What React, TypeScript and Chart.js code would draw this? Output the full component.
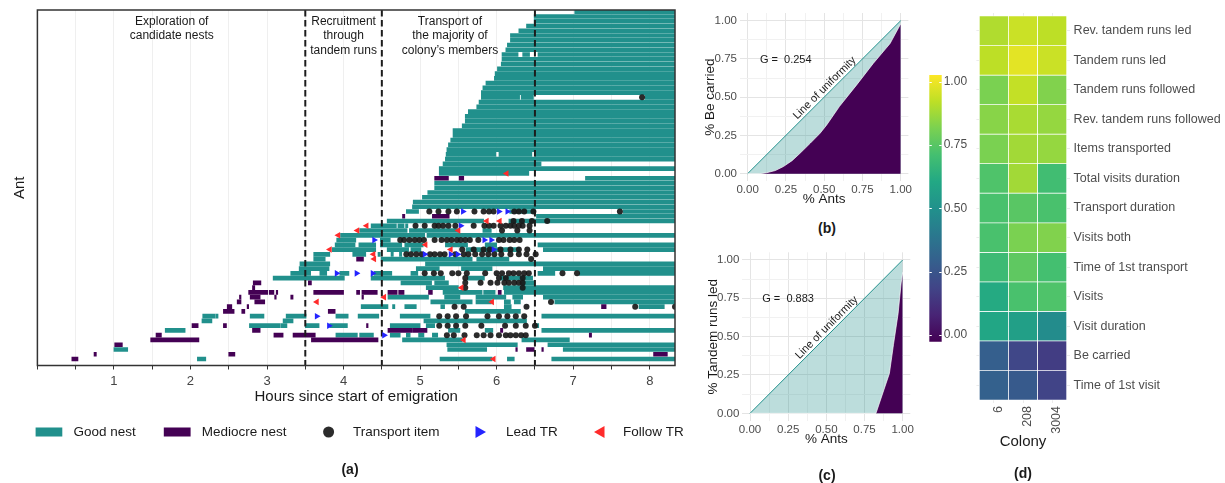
import React, { useEffect, useRef } from 'react';
import { Chart, registerables } from 'chart.js';

Chart.register(...registerables);

const FONT = "'Liberation Sans', Arial, Helvetica, sans-serif";
Chart.defaults.font.family = FONT;
Chart.defaults.color = '#4d4d4d';

const TEAL = '#21908C';
const PURPLE = '#440154';
const DOT = 'rgba(25,25,25,0.92)';
const BLUE = '#2424ff';
const RED = '#ff2b2b';

// ---------------- Panel (a) data ----------------
const hourTicks = [0, 0.5, 1, 1.5, 2, 2.5, 3, 3.5, 4, 4.5, 5, 5.5, 6, 6.5, 7, 7.5, 8];
const hourMax = 8.33;
const rowMin = -0.36;
const rowMax = 74.37;
const phaseBreaks = [3.5, 4.5, 6.5];
const phaseTextRows = [2.1, 5.1, 8.1];
const phaseTitles = [
  { x: 1.755, lines: ['Exploration of', 'candidate nests'] },
  { x: 4.0, lines: ['Recruitment', 'through', 'tandem runs'] },
  { x: 5.39, lines: ['Transport of', 'the majority of', 'colony\u2019s members'] },
];

// [ant row (0 = top), start hour, end hour]
const goodNest: number[][] = [
  [0, 7.02, 8.33], [1, 6.49, 8.33], [2, 6.49, 8.33], [3, 6.39, 8.33], [4, 6.29, 8.33],
  [5, 6.18, 8.33], [6, 6.18, 8.33], [7, 6.14, 8.33], [8, 6.12, 8.33],
  [9, 6.07, 6.28], [9, 6.34, 6.43], [9, 6.54, 8.33],
  [10, 6.07, 8.33], [11, 6.06, 8.33], [12, 6.01, 8.33], [13, 5.98, 8.33], [14, 5.97, 8.33],
  [15, 5.86, 8.33], [16, 5.82, 8.33], [17, 5.8, 8.33],
  [18, 5.8, 6.3], [18, 6.32, 6.48], [18, 7.94, 8.33],
  [19, 5.77, 8.33], [20, 5.74, 8.33], [21, 5.63, 8.33], [22, 5.59, 8.33], [23, 5.59, 8.33],
  [24, 5.55, 8.33], [25, 5.43, 8.33], [26, 5.43, 8.33], [27, 5.4, 8.33], [28, 5.37, 8.33],
  [29, 5.35, 8.33],
  [30, 5.34, 5.99], [30, 6.03, 6.46], [30, 6.5, 8.33],
  [31, 5.33, 8.33], [32, 5.3, 6.58], [33, 5.25, 8.33], [34, 5.25, 6.42], [35, 7.16, 8.33],
  [36, 5.19, 8.33], [37, 5.19, 8.33], [38, 5.1, 8.33], [39, 5.03, 8.33], [40, 4.91, 8.33],
  [41, 4.9, 8.33],
  [42, 4.82, 4.98], [42, 6.17, 6.5], [42, 7.65, 8.33],
  [43, 6.52, 8.33],
  [44, 4.57, 5.83], [44, 6.16, 8.33],
  [45, 4.36, 4.69], [45, 4.71, 4.79], [45, 4.81, 4.84],
  [46, 4.21, 4.83], [46, 4.86, 5.5], [46, 5.82, 5.93],
  [47, 3.96, 5.06], [47, 5.09, 8.33],
  [48, 3.91, 4.16], [48, 4.48, 4.61],
  [49, 3.89, 4.15], [49, 4.2, 4.42], [49, 4.48, 4.76], [49, 4.8, 5.04], [49, 5.33, 5.62], [49, 5.85, 6.0], [49, 6.54, 8.33],
  [50, 3.85, 4.42], [50, 4.57, 4.85], [50, 4.88, 5.01], [50, 5.6, 6.3], [50, 6.61, 8.33],
  [51, 3.61, 3.82], [51, 4.12, 4.29], [51, 4.45, 4.48], [51, 4.62, 4.65], [51, 4.73, 4.76],
  [52, 3.61, 3.76], [52, 4.49, 5.68], [52, 5.74, 6.16],
  [53, 3.43, 3.82], [53, 5.07, 8.33],
  [54, 3.42, 3.81], [54, 4.95, 5.25], [54, 5.54, 5.94], [54, 6.61, 8.33],
  [55, 3.31, 3.57], [55, 3.69, 3.78], [55, 3.95, 4.07], [55, 4.4, 4.63], [55, 4.88, 4.97], [55, 6.54, 6.76], [55, 7.08, 8.33],
  [56, 3.08, 4.01], [56, 4.36, 5.32], [56, 5.62, 5.84], [56, 6.05, 6.47],
  [57, 4.75, 5.15], [57, 5.19, 5.37], [57, 6.33, 6.49],
  [58, 5.08, 5.5], [58, 6.09, 8.33],
  [59, 5.3, 5.81], [59, 5.83, 5.98], [59, 6.1, 8.33],
  [60, 4.58, 5.11], [60, 5.32, 5.52], [60, 5.73, 6.12], [60, 6.21, 6.34], [60, 6.61, 8.33],
  [61, 5.14, 5.68], [61, 5.73, 5.93], [61, 6.1, 6.18], [61, 6.23, 6.31], [61, 6.76, 8.33],
  [62, 4.23, 4.58], [62, 4.64, 4.67], [62, 4.8, 4.95], [62, 5.27, 5.32], [62, 6.1, 6.19], [62, 7.86, 8.19],
  [63, 5.59, 6.31],
  [64, 2.16, 2.32], [64, 2.33, 2.36], [64, 2.78, 2.96], [64, 3.25, 3.51], [64, 3.9, 4.06], [64, 4.19, 4.46], [64, 4.74, 5.13], [64, 6.59, 8.33],
  [65, 2.15, 2.28], [65, 3.21, 3.34], [65, 5.05, 6.39],
  [66, 2.77, 3.17], [66, 3.18, 3.26], [66, 3.5, 3.68], [66, 3.82, 4.05], [66, 4.61, 5.0], [66, 5.08, 5.19], [66, 6.51, 6.55],
  [67, 1.67, 1.93], [67, 5.37, 5.52], [67, 5.85, 5.95], [67, 6.59, 8.33],
  [68, 3.9, 4.18], [68, 4.21, 4.39], [68, 4.61, 4.74], [68, 4.82, 4.87], [68, 4.98, 5.05], [68, 5.16, 5.23],
  [69, 4.77, 5.55], [69, 6.33, 6.95],
  [70, 5.35, 6.27], [70, 6.67, 8.33],
  [71, 1.0, 1.18], [71, 5.36, 5.87], [71, 6.87, 8.33],
  [73, 2.09, 2.2], [73, 5.26, 5.94], [73, 6.14, 6.23], [73, 6.72, 8.33],
];

const mediocreNest: number[][] = [
  [35, 5.19, 5.37], [35, 5.51, 5.57],
  [43, 4.77, 4.8], [43, 5.16, 5.38],
  [52, 4.17, 4.26],
  [57, 2.82, 2.92], [57, 3.54, 3.58],
  [58, 2.81, 2.84],
  [59, 2.76, 3.01], [59, 3.03, 3.09], [59, 3.12, 3.14], [59, 3.61, 4.0], [59, 4.17, 4.21], [59, 4.24, 4.44], [59, 4.58, 4.7], [59, 4.72, 4.79], [59, 5.11, 5.16], [59, 6.02, 6.06],
  [60, 2.64, 2.66], [60, 2.78, 2.91], [60, 3.1, 3.12], [60, 3.31, 3.34], [60, 4.24, 4.26],
  [61, 2.61, 2.66], [61, 2.84, 2.97],
  [62, 2.48, 2.54], [62, 2.74, 2.76], [62, 7.37, 7.43],
  [63, 2.43, 2.57], [63, 2.67, 2.71], [63, 3.8, 3.89],
  [66, 2.02, 2.1], [66, 2.43, 2.47], [66, 4.3, 4.32],
  [67, 2.81, 2.91], [67, 4.58, 4.89], [67, 4.9, 5.09], [67, 6.05, 6.08],
  [68, 1.55, 1.62], [68, 3.09, 3.21], [68, 3.34, 3.63], [68, 7.21, 7.24],
  [69, 1.48, 2.11], [69, 3.58, 4.45],
  [70, 1.01, 1.11],
  [71, 6.25, 6.27], [71, 6.39, 6.49], [71, 6.59, 6.61],
  [72, 0.74, 0.77], [72, 2.5, 2.58], [72, 8.05, 8.23],
  [73, 0.45, 0.53],
];

// [ant row, hour]
const transportItems: number[][] = [
  [18, 7.9],
  [42, 5.12], [42, 5.24], [42, 5.37], [42, 5.48], [42, 5.71], [42, 5.83], [42, 5.9], [42, 5.96], [42, 6.23], [42, 6.29], [42, 6.36], [42, 6.48], [42, 7.61],
  [44, 6.22], [44, 6.33], [44, 6.46], [44, 6.66],
  [45, 4.94], [45, 5.06], [45, 5.19], [45, 5.24], [45, 5.3], [45, 5.37], [45, 5.46], [45, 5.7], [45, 5.84], [45, 5.9], [45, 5.96], [45, 6.05], [45, 6.12], [45, 6.18], [45, 6.23], [45, 6.29], [45, 6.34], [45, 6.43],
  [46, 6.07], [46, 6.27], [46, 6.43],
  [48, 4.74], [48, 4.79], [48, 4.86], [48, 4.93], [48, 4.99], [48, 5.05], [48, 5.19], [48, 5.28], [48, 5.35], [48, 5.41], [48, 5.48], [48, 5.53], [48, 5.59], [48, 5.65], [48, 5.76], [48, 6.03], [48, 6.09], [48, 6.17], [48, 6.23], [48, 6.3],
  [50, 5.55], [50, 5.7], [50, 5.83], [50, 5.91], [50, 6.05], [50, 6.18], [50, 6.29], [50, 6.4],
  [51, 4.82], [51, 4.88], [51, 4.95], [51, 5.02], [51, 5.13], [51, 5.19], [51, 5.26], [51, 5.32], [51, 5.46], [51, 5.57], [51, 5.63], [51, 5.72], [51, 5.81], [51, 5.89], [51, 5.97], [51, 6.06], [51, 6.18], [51, 6.29], [51, 6.39], [51, 6.51],
  [52, 6.45],
  [55, 5.06], [55, 5.18], [55, 5.27], [55, 5.42], [55, 5.5], [55, 5.61], [55, 5.85], [55, 6.0], [55, 6.07], [55, 6.16], [55, 6.22], [55, 6.29], [55, 6.36], [55, 6.42], [55, 6.86], [55, 7.05],
  [56, 5.59], [56, 6.03], [56, 6.12], [56, 6.34],
  [57, 5.59], [57, 5.79], [57, 5.92], [57, 6.01], [57, 6.1], [57, 6.16], [57, 6.23], [57, 6.29], [57, 6.34],
  [58, 5.59], [58, 6.34],
  [61, 6.71],
  [62, 5.45], [62, 5.57], [62, 6.39], [62, 7.81], [62, 8.33],
  [64, 5.25], [64, 5.36], [64, 5.47], [64, 5.6], [64, 5.88], [64, 6.03], [64, 6.14], [64, 6.25], [64, 6.36],
  [66, 5.25], [66, 5.36], [66, 5.47], [66, 5.59], [66, 5.8], [66, 6.11], [66, 6.25], [66, 6.38], [66, 6.5],
  [68, 5.35], [68, 5.44], [68, 5.58], [68, 5.74], [68, 5.83], [68, 5.92], [68, 6.03], [68, 6.12], [68, 6.18], [68, 6.25], [68, 6.32], [68, 6.38],
];

const leadTR: number[][] = [
  [42, 5.56], [42, 6.03], [42, 6.14], [45, 5.53], [48, 4.4], [48, 5.84], [48, 5.93], [50, 5.96],
  [51, 5.06], [51, 5.4], [51, 5.49], [55, 3.91], [55, 4.17], [55, 4.38], [64, 3.65], [66, 3.81], [68, 4.53],
];

const followTR: number[][] = [
  [34, 6.13], [44, 5.87], [44, 6.04], [45, 4.3], [46, 4.18], [46, 5.5], [47, 3.93], [49, 5.07],
  [50, 3.82], [50, 5.4], [51, 4.39], [52, 4.4], [58, 5.54], [60, 4.53], [61, 3.65], [61, 5.94],
  [69, 5.57], [73, 5.96],
];

// ---------------- Panels (b), (c) data ----------------
const lorenzTicks = [0, 0.125, 0.25, 0.375, 0.5, 0.625, 0.75, 0.875, 1];
const lorenzBeCarried = [
  [0, 0], [0.08, 0], [0.124, 0.006], [0.18, 0.02], [0.233, 0.046], [0.29, 0.085], [0.342, 0.133],
  [0.41, 0.2], [0.473, 0.264], [0.516, 0.318], [0.6, 0.44], [0.712, 0.58], [0.82, 0.72],
  [0.93, 0.85], [1, 0.98],
];
const lorenzTandemLed = [
  [0, 0], [0.825, 0], [0.913, 0.26], [0.94, 0.45], [0.97, 0.65], [0.99, 0.85], [1, 0.92],
];
const uniformity = [[0, 0], [1, 1]];
const giniBeCarried = 'G =  0.254';
const giniTandemLed = 'G =  0.883';

// ---------------- Panel (d) data ----------------
const colonies = ['6', '208', '3004'];
const traits = [
  'Rev. tandem runs led', 'Tandem runs led', 'Tandem runs followed', 'Rev. tandem runs followed',
  'Items transported', 'Total visits duration', 'Transport duration', 'Visits both',
  'Time of 1st transport', 'Visits', 'Visit duration', 'Be carried', 'Time of 1st visit',
];
const colony6 = [0.9, 0.921, 0.816, 0.837, 0.816, 0.731, 0.721, 0.721, 0.689, 0.616, 0.595, 0.29, 0.3];
const colony208 = [0.942, 0.984, 0.931, 0.889, 0.879, 0.879, 0.752, 0.816, 0.763, 0.721, 0.563, 0.195, 0.269];
const colony3004 = [0.921, 0.942, 0.826, 0.858, 0.858, 0.7, 0.721, 0.826, 0.71, 0.731, 0.479, 0.163, 0.184];
const cbMin = -0.026;
const cbMax = 1.026;
const cbTicks = [0, 0.25, 0.5, 0.75, 1];

const viridisStops = ['#440154', '#482475', '#414487', '#355f8d', '#2a788e', '#21918c', '#22a884', '#44bf70', '#7ad151', '#bddf26', '#fde725'];
function hexRgb(h: string) {
  return [parseInt(h.slice(1, 3), 16), parseInt(h.slice(3, 5), 16), parseInt(h.slice(5, 7), 16)];
}
function viridis(t: number) {
  const tt = Math.max(0, Math.min(1, t));
  const p = tt * 10;
  const i = Math.min(9, Math.floor(p));
  const f = p - i;
  const a = hexRgb(viridisStops[i]);
  const b = hexRgb(viridisStops[i + 1]);
  const c = a.map((v, k) => Math.round(v + (b[k] - v) * f));
  return `rgb(${c[0]},${c[1]},${c[2]})`;
}

// ---------------- Configs ----------------
function triPath(ctx: CanvasRenderingContext2D, cx: number, cy: number, r: number, dir: number) {
  ctx.beginPath();
  ctx.moveTo(cx + dir * r, cy);
  ctx.lineTo(cx - dir * r * 0.5, cy - r * 0.866);
  ctx.lineTo(cx - dir * r * 0.5, cy + r * 0.866);
  ctx.closePath();
  ctx.fill();
}

const aDecor = {
  id: 'aDecor',
  afterDraw(chart: any) {
    const { ctx, chartArea: ca, scales } = chart;
    const x = scales.x;
    const y = scales.y;
    ctx.save();
    ctx.strokeStyle = '#333';
    ctx.lineWidth = 1.5;
    ctx.strokeRect(ca.left, ca.top, ca.right - ca.left, ca.bottom - ca.top);

    ctx.fillStyle = '#1a1a1a';
    ctx.font = `12px ${FONT}`;
    ctx.textAlign = 'center';
    ctx.textBaseline = 'middle';
    phaseTitles.forEach((p) => {
      p.lines.forEach((ln, i) => {
        ctx.fillText(ln, x.getPixelForValue(p.x), y.getPixelForValue(phaseTextRows[i]));
      });
    });

    // legend
    const ly = 432;
    ctx.font = `13.5px ${FONT}`;
    ctx.textAlign = 'left';
    ctx.fillStyle = TEAL;
    ctx.fillRect(35.6, ly - 4.5, 26.7, 9);
    ctx.fillStyle = PURPLE;
    ctx.fillRect(163.8, ly - 4.5, 26.8, 9);
    ctx.fillStyle = DOT;
    ctx.beginPath();
    ctx.arc(328.6, ly, 5.5, 0, Math.PI * 2);
    ctx.fill();
    ctx.fillStyle = BLUE;
    triPath(ctx, 479, ly, 7, 1);
    ctx.fillStyle = RED;
    triPath(ctx, 601, ly, 7, -1);
    ctx.fillStyle = '#1a1a1a';
    const names = ['Good nest', 'Mediocre nest', 'Transport item', 'Lead TR', 'Follow TR'];
    const tx = [73.5, 201.7, 353, 506, 623];
    names.forEach((n, i) => ctx.fillText(n, tx[i], ly));
    ctx.restore();
  },
};

function makeConfigA(): any {
  const rowsToPts = (arr: number[][]) => arr.map(([r, h]) => ({ x: h, y: r }));
  const segs = (arr: number[][]) => arr.map(([r, s, e]) => ({ x: [s, e], y: r }));
  return {
    type: 'bar',
    data: {
      datasets: [
        {
          type: 'scatter', label: 'Follow TR', data: rowsToPts(followTR), pointStyle: 'triangle',
          pointRotation: -90, pointRadius: 3.8, pointBackgroundColor: RED, pointBorderWidth: 0, order: 0,
        },
        {
          type: 'scatter', label: 'Lead TR', data: rowsToPts(leadTR), pointStyle: 'triangle',
          pointRotation: 90, pointRadius: 3.8, pointBackgroundColor: BLUE, pointBorderWidth: 0, order: 1,
        },
        {
          type: 'scatter', label: 'Transport item', data: rowsToPts(transportItems), pointStyle: 'circle',
          pointRadius: 3, pointBackgroundColor: DOT, pointBorderWidth: 0, order: 2,
        },
        ...phaseBreaks.map((b) => ({
          type: 'scatter', label: 'phase', data: [{ x: b, y: rowMin }, { x: b, y: rowMax }], showLine: true,
          borderColor: '#1c1c1c', borderWidth: 2, borderDash: [6.5, 3.5], pointRadius: 0, order: 3,
        })),
        {
          type: 'bar', label: 'Mediocre nest', indexAxis: 'y', data: segs(mediocreNest), backgroundColor: PURPLE,
          barThickness: 4, grouped: false, borderWidth: 0, order: 4,
        },
        {
          type: 'bar', label: 'Good nest', indexAxis: 'y', data: segs(goodNest), backgroundColor: TEAL,
          barThickness: 4, grouped: false, borderWidth: 0, order: 5,
        },
      ],
    },
    options: {
      responsive: false,
      animation: false,
      events: [],
      layout: { padding: { left: 0, top: 10, right: 15, bottom: 0 } },
      plugins: { legend: { display: false }, tooltip: { enabled: false } },
      scales: {
        x: {
          type: 'linear', min: 0, max: hourMax, offset: false, beginAtZero: false,
          afterBuildTicks: (s: any) => { s.ticks = hourTicks.map((v) => ({ value: v })); },
          afterFit: (s: any) => { s.height = 117.5; },
          grid: { offset: false, color: '#efefef', lineWidth: 1, drawTicks: true, tickLength: 4, tickColor: '#333', tickWidth: 1 },
          border: { display: false },
          ticks: {
            autoSkip: false, maxRotation: 0, minRotation: 0, padding: 4, color: '#444', font: { size: 13 },
            callback: (v: number) => (Number.isInteger(v) && v > 0 ? String(v) : ''),
          },
          title: {
            display: true, text: 'Hours since start of emigration', color: '#1a1a1a', font: { size: 15 },
            padding: { top: 0, bottom: 77 },
          },
        },
        y: {
          type: 'linear', reverse: true, min: rowMin, max: rowMax, offset: false, beginAtZero: false,
          afterFit: (s: any) => { s.width = 37.4; },
          grid: { display: false, offset: false },
          border: { display: false },
          ticks: { display: false },
          title: { display: true, text: 'Ant', color: '#1a1a1a', font: { size: 15 }, padding: { top: 11, bottom: 0 } },
        },
      },
    },
    plugins: [aDecor],
  };
}

function isMajorQuarter(v: number) {
  return Math.abs(v * 4 - Math.round(v * 4)) < 1e-6;
}

function makeLorenzConfig(curve: number[][], gText: string, yTitle: string, geo: any): any {
  const decor = {
    id: 'lorenzDecor',
    afterDatasetsDraw(chart: any) {
      const { ctx, scales } = chart;
      const x = scales.x;
      const y = scales.y;
      ctx.save();
      ctx.fillStyle = '#1a1a1a';
      ctx.font = `11px ${FONT}`;
      ctx.textAlign = 'left';
      ctx.textBaseline = 'middle';
      ctx.fillText(gText, x.getPixelForValue(0.08), y.getPixelForValue(0.743));
      const px = x.getPixelForValue(0.503);
      const py = y.getPixelForValue(0.559);
      const ang = Math.atan2(y.getPixelForValue(1) - y.getPixelForValue(0), x.getPixelForValue(1) - x.getPixelForValue(0));
      ctx.translate(px, py);
      ctx.rotate(ang);
      ctx.textAlign = 'center';
      ctx.fillText('Line of uniformity', 0, 0);
      ctx.restore();
    },
  };
  const gridColor = (c: any) => (c.tick && isMajorQuarter(c.tick.value) ? '#e4e4e4' : '#f1f1f1');
  const axisCommon = {
    type: 'linear', min: -0.05, max: 1.05, offset: false, beginAtZero: false,
    afterBuildTicks: (s: any) => { s.ticks = lorenzTicks.map((v) => ({ value: v })); },
    grid: { color: gridColor, lineWidth: 1, drawTicks: false },
    border: { display: false },
  };
  return {
    type: 'scatter',
    data: {
      datasets: [
        {
          label: 'Lorenz', data: curve.map(([a, b]) => ({ x: a, y: b })), showLine: true, fill: 'origin',
          backgroundColor: PURPLE, borderColor: 'rgba(255,255,255,0.85)', borderWidth: 0.8, pointRadius: 0,
        },
        {
          label: 'Uniformity', data: uniformity.map(([a, b]) => ({ x: a, y: b })), showLine: true, fill: 'origin',
          backgroundColor: 'rgba(33,144,140,0.3)', borderColor: TEAL, borderWidth: 1, pointRadius: 0,
        },
      ],
    },
    options: {
      responsive: false,
      animation: false,
      events: [],
      layout: { padding: { left: 0, top: geo.top, right: geo.right, bottom: 0 } },
      plugins: { legend: { display: false }, tooltip: { enabled: false } },
      scales: {
        x: {
          ...axisCommon,
          afterFit: (s: any) => { s.height = geo.xH; },
          ticks: {
            autoSkip: false, maxRotation: 0, padding: 2, color: '#4d4d4d', font: { size: 11.5 },
            callback: (v: number) => (isMajorQuarter(v) ? v.toFixed(2) : ''),
          },
          title: { display: true, text: '% Ants', color: '#1a1a1a', font: { size: 13.5 }, padding: { top: 0, bottom: geo.xTitlePad } },
        },
        y: {
          ...axisCommon,
          afterFit: (s: any) => { s.width = geo.yW; },
          ticks: {
            autoSkip: false, padding: 3, color: '#4d4d4d', font: { size: 11.5 },
            callback: (v: number) => (isMajorQuarter(v) ? v.toFixed(2) : ''),
          },
          title: { display: true, text: yTitle, color: '#1a1a1a', font: { size: 13.5 }, padding: { top: geo.yTitlePad, bottom: 0 } },
        },
      },
    },
    plugins: [decor],
  };
}

function makeHeatConfig(): any {
  const datasets = traits.map((name, idx) => {
    const r = traits.length - 1 - idx;
    const vals = [colony6[idx], colony208[idx], colony3004[idx]];
    return {
      type: 'bar', label: name, data: vals.map((_, i) => ({ x: i, y: [r, r + 1] })),
      backgroundColor: vals.map((v) => viridis((v - cbMin) / (cbMax - cbMin))),
      borderColor: '#ffffff', borderWidth: 0.7, borderSkipped: false, grouped: false,
      barPercentage: 1, categoryPercentage: 1,
    };
  });
  const colonyTitle = {
    id: 'colonyTitle',
    afterDraw(chart: any) {
      const { ctx, chartArea: ca } = chart;
      ctx.save();
      ctx.fillStyle = '#1a1a1a';
      ctx.font = `15px ${FONT}`;
      ctx.textAlign = 'center';
      ctx.textBaseline = 'middle';
      ctx.fillText('Colony', (ca.left + ca.right) / 2, 442);
      ctx.restore();
    },
  };
  return {
    type: 'bar',
    data: { datasets },
    options: {
      responsive: false,
      animation: false,
      events: [],
      layout: { padding: { left: 56.4, top: 13, right: 0, bottom: 0 } },
      plugins: { legend: { display: false }, tooltip: { enabled: false } },
      scales: {
        x: {
          type: 'linear', min: -0.6, max: 2.6, offset: false, beginAtZero: false,
          afterBuildTicks: (s: any) => { s.ticks = colonies.map((_, i) => ({ value: i })); },
          afterFit: (s: any) => { s.height = 80; },
          grid: { color: '#ebebeb', drawTicks: false, offset: false },
          border: { display: false },
          ticks: {
            autoSkip: false, minRotation: 90, maxRotation: 90, padding: 3, labelOffset: 4.5, color: '#4d4d4d', font: { size: 12.5 },
            callback: (v: number) => colonies[v] ?? '',
          },
        },
        y: {
          type: 'linear', position: 'right', min: -0.1, max: 13.1, offset: false, beginAtZero: false,
          afterBuildTicks: (s: any) => { s.ticks = traits.map((_, i) => ({ value: i + 0.5 })); },
          afterFit: (s: any) => { s.width = 155.4; },
          grid: { color: '#ebebeb', drawTicks: false },
          border: { display: false },
          ticks: {
            autoSkip: false, padding: 4, color: '#4d4d4d', font: { size: 12.5 },
            callback: (v: number) => traits[traits.length - 1 - Math.round(v - 0.5)] ?? '',
          },
        },
      },
    },
    plugins: [colonyTitle],
  };
}

function makeColorbarConfig(): any {
  const tickPlugin = {
    id: 'cbTicks',
    afterDatasetsDraw(chart: any) {
      const { ctx, chartArea: ca, scales } = chart;
      ctx.save();
      ctx.strokeStyle = '#ffffff';
      ctx.lineWidth = 1;
      cbTicks.forEach((v) => {
        const py = Math.round(scales.y.getPixelForValue(v)) + 0.5;
        ctx.beginPath();
        ctx.moveTo(ca.left, py);
        ctx.lineTo(ca.left + 2.5, py);
        ctx.moveTo(ca.right - 2.5, py);
        ctx.lineTo(ca.right, py);
        ctx.stroke();
      });
      ctx.restore();
    },
  };
  return {
    type: 'bar',
    data: {
      labels: [''],
      datasets: [
        {
          label: 'scale', data: [[cbMin, cbMax]], borderWidth: 0, barPercentage: 1, categoryPercentage: 1,
          backgroundColor: (c: any) => {
            const chart = c.chart;
            const ca = chart.chartArea;
            if (!ca) return TEAL;
            const g = chart.ctx.createLinearGradient(0, ca.bottom, 0, ca.top);
            viridisStops.forEach((col, i) => g.addColorStop(i / (viridisStops.length - 1), col));
            return g;
          },
        },
      ],
    },
    options: {
      responsive: false,
      animation: false,
      events: [],
      layout: { padding: { left: 9.3, top: 15, right: 0, bottom: 18.3 } },
      plugins: { legend: { display: false }, tooltip: { enabled: false } },
      scales: {
        x: { display: false },
        y: {
          position: 'right', min: cbMin, max: cbMax, beginAtZero: false,
          afterBuildTicks: (s: any) => { s.ticks = cbTicks.map((v) => ({ value: v })); },
          afterFit: (s: any) => { s.width = 38.3; },
          grid: { display: false, drawTicks: false },
          border: { display: false },
          ticks: { autoSkip: false, padding: 2, color: '#4d4d4d', font: { size: 12 }, callback: (v: number) => v.toFixed(2) },
        },
      },
    },
    plugins: [tickPlugin],
  };
}

const panelLabel = (x: number, y: number): React.CSSProperties => ({
  position: 'absolute', left: x - 20, top: y - 8, width: 40, height: 16, lineHeight: '16px',
  textAlign: 'center', fontFamily: FONT, fontWeight: 'bold', fontSize: 14, color: '#1a1a1a',
});

export default function App() {
  const aRef = useRef<HTMLCanvasElement>(null);
  const bRef = useRef<HTMLCanvasElement>(null);
  const cRef = useRef<HTMLCanvasElement>(null);
  const dRef = useRef<HTMLCanvasElement>(null);
  const cbRef = useRef<HTMLCanvasElement>(null);

  useEffect(() => {
    const charts: Chart[] = [];
    charts.push(new Chart(aRef.current as HTMLCanvasElement, makeConfigA()));
    charts.push(new Chart(bRef.current as HTMLCanvasElement, makeLorenzConfig(lorenzBeCarried, giniBeCarried, '% Be carried',
      { top: 13, right: 16.6, xH: 33.7, yW: 50, xTitlePad: 7.2, yTitlePad: 11.9 })));
    charts.push(new Chart(cRef.current as HTMLCanvasElement, makeLorenzConfig(lorenzTandemLed, giniTandemLed, '% Tandem runs led',
      { top: 12.3, right: 14.7, xH: 34, yW: 52.4, xTitlePad: 7.2, yTitlePad: 15.2 })));
    charts.push(new Chart(dRef.current as HTMLCanvasElement, makeHeatConfig()));
    charts.push(new Chart(cbRef.current as HTMLCanvasElement, makeColorbarConfig()));
    return () => charts.forEach((c) => c.destroy());
  }, []);

  return (
    <div style={{ position: 'absolute', left: 0, top: 0, width: 1225, height: 483, background: '#ffffff', overflow: 'hidden' }}>
      <canvas ref={aRef} width={690} height={483} style={{ position: 'absolute', left: 0, top: 0, width: 690, height: 483 }} />
      <canvas ref={bRef} width={235} height={215} style={{ position: 'absolute', left: 690, top: 0, width: 235, height: 215 }} />
      <canvas ref={cRef} width={235} height={215} style={{ position: 'absolute', left: 690, top: 240, width: 235, height: 215 }} />
      <canvas ref={dRef} width={305} height={483} style={{ position: 'absolute', left: 920, top: 0, width: 305, height: 483 }} />
      <canvas ref={cbRef} width={60} height={300} style={{ position: 'absolute', left: 920, top: 60, width: 60, height: 300 }} />
      <div style={panelLabel(350, 469)}>(a)</div>
      <div style={panelLabel(827, 228)}>(b)</div>
      <div style={panelLabel(827, 475)}>(c)</div>
      <div style={panelLabel(1023, 473)}>(d)</div>
    </div>
  );
}
